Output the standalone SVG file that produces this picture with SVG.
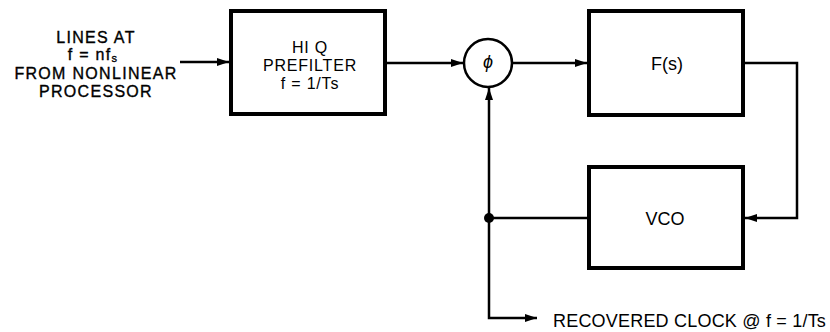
<svg xmlns="http://www.w3.org/2000/svg" width="830" height="332" viewBox="0 0 830 332">
<style>
.box{fill:#fff;stroke:#000;stroke-width:4}
.ln{fill:none;stroke:#000;stroke-width:2.5}
.lbl{font-family:"Liberation Sans",Arial,sans-serif;font-size:18px;fill:#000}
.sm{font-size:16px}
.in{letter-spacing:1.3px;stroke:#000;stroke-width:0.35px}
.pf{letter-spacing:0.8px}
</style>
<defs>
<marker id="ah" viewBox="0 0 12 8" refX="12" refY="4" markerWidth="13" markerHeight="8" markerUnits="userSpaceOnUse" orient="auto">
<path d="M0,0 L12,4 L0,8 Z" fill="#000"/>
</marker>
</defs>
<g id="input-label">
<text class="lbl sm in" text-anchor="middle" x="96" y="43">LINES AT</text>
<text class="lbl sm in" text-anchor="middle" x="93" y="60">f = nf<tspan font-size="11" dy="2">s</tspan></text>
<text class="lbl sm in" text-anchor="middle" x="96" y="79">FROM NONLINEAR</text>
<text class="lbl sm in" text-anchor="middle" x="96" y="97">PROCESSOR</text>
</g>
<g id="prefilter">
<rect class="box" x="231" y="11" width="154" height="103"/>
<text class="lbl sm pf" text-anchor="middle" x="310" y="53">HI Q</text>
<text class="lbl sm pf" text-anchor="middle" x="310" y="71">PREFILTER</text>
<text class="lbl sm pf" text-anchor="middle" x="310" y="89">f = 1/Ts</text>
</g>
<g id="phase-detector">
<circle cx="488" cy="63" r="24" fill="#fff" stroke="#000" stroke-width="2.5"/>
<text class="lbl" text-anchor="middle" x="488" y="68" font-style="italic" font-size="14">ϕ</text>
</g>
<g id="loop-filter">
<rect class="box" x="589" y="11" width="154" height="104"/>
<text class="lbl" text-anchor="middle" x="667" y="70">F(s)</text>
</g>
<g id="vco">
<rect class="box" x="589" y="167" width="154" height="101"/>
<text class="lbl" text-anchor="middle" x="665" y="225">VCO</text>
</g>
<g id="output-label">
<text class="lbl" x="553" y="327" letter-spacing="0.2">RECOVERED CLOCK @ f = 1/Ts</text>
</g>
<g id="connectors">
<line class="ln" x1="180" y1="62" x2="229" y2="62" stroke-width="3.5" marker-end="url(#ah)"/>
<line class="ln" x1="387" y1="63" x2="463" y2="63" marker-end="url(#ah)"/>
<line class="ln" x1="512" y1="63" x2="587" y2="63" marker-end="url(#ah)"/>
<polyline class="ln" points="745,63 797,63 797,218 745,218" marker-end="url(#ah)"/>
<line class="ln" x1="587" y1="218" x2="489" y2="218"/>
<line class="ln" x1="489" y1="218" x2="489" y2="88" marker-end="url(#ah)"/>
<polyline class="ln" points="489,218 489,318 537,318" marker-end="url(#ah)"/>
<circle cx="489" cy="218" r="5" fill="#000"/>
</g>
</svg>
